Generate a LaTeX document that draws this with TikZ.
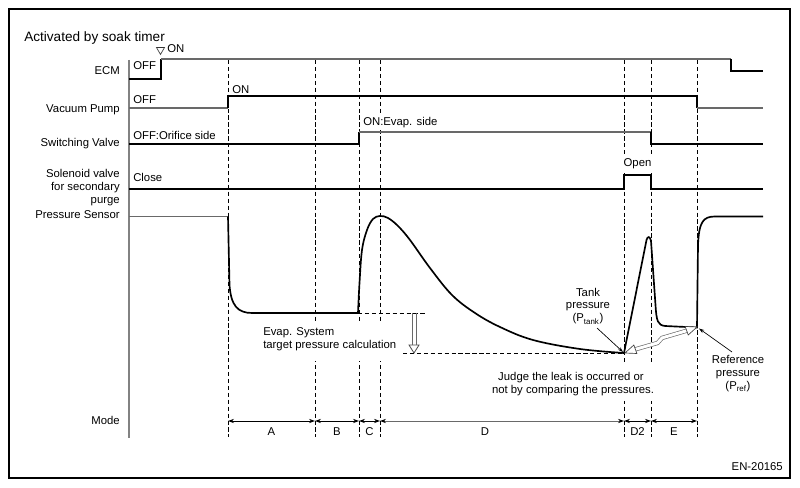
\documentclass[tikz,border=0pt]{standalone}
\usepackage{fontspec}
\setmainfont{Liberation Sans}
\usetikzlibrary{arrows.meta}
\definecolor{sg}{RGB}{105,105,105}
\definecolor{ax}{RGB}{130,130,130}
\begin{document}
\begin{tikzpicture}[x=0.75pt,y=-0.75pt,
  lbl/.style={inner sep=0pt, font=\fontsize{8.5}{10}\selectfont},
  sigk/.style={line width=1.25pt, black},
  sigg/.style={line width=1.4pt, sg},
  guide/.style={line width=0.6pt, dash pattern=on 3.2pt off 2pt},
  modearr/.style={line width=0.7pt, {Stealth[length=4.5pt,width=3.2pt,color=black]}-{Stealth[length=4.5pt,width=3.2pt,color=black]}},
  ptr/.style={line width=0.5pt, -{Stealth[length=4pt,width=2.6pt]}},
  mask/.style={fill=white, draw=none}]
\useasboundingbox (0,0) rectangle (800,488);
\draw[line width=0.9pt] (9,9) rectangle (790,478);

% guide lines
\foreach \x [count=\i] in {228,315,359,380,624,651,697} {
  \coordinate (top\i) at (\x,60);
  \coordinate (bot\i) at (\x,437);
  \coordinate (m\i) at (\x,421);
  \draw[guide] (top\i) -- (bot\i);
}
\coordinate (axtop) at (129,60);
\coordinate (axbot) at (129,438);
\draw[ax, line width=0.8pt] (axtop) -- (axbot);

% masks behind texts
\fill[mask] (361,113) rectangle (442,130);
\fill[mask] (620,154) rectangle (655,173);
\fill[mask] (260,322) rectangle (400,361);
\fill[mask] (488,364) rectangle (662,401);

% horizontal guides
\coordinate (h1a) at (358,313); \coordinate (h1b) at (427,313);
\coordinate (h2a) at (403,353); \coordinate (h2b) at (624,353);
\draw[guide] (h1a) -- (h1b);
\draw[guide] (h2a) -- (h2b);

% title and labels
\node[inner sep=0pt, anchor=base west, font=\fontsize{10.2}{12}\selectfont] (title) at (24,42) {Activated by soak timer};
\node[lbl, anchor=base east] (lecm) at (120,75) {ECM};
\node[lbl, anchor=base east] (lvp) at (120,113) {Vacuum Pump};
\node[lbl, anchor=base east] (lsv) at (120,147) {Switching Valve};
\node[lbl, anchor=base east] (lsol1) at (120,178) {Solenoid valve};
\node[lbl, anchor=base east] (lsol2) at (120,191) {for secondary};
\node[lbl, anchor=base east] (lsol3) at (120,203.5) {purge};
\node[lbl, anchor=base east] (lps) at (120,218.5) {Pressure Sensor};
\node[lbl, anchor=base east] (lmode) at (120,424.5) {Mode};

% state texts
\node[lbl, anchor=base west] (ecmoff) at (133,70) {OFF};
\node[lbl, anchor=base west] (ecmon) at (167,53) {ON};
\draw[line width=0.5pt, black!80] (156.5,47.5) -- (164.5,47.5) -- (160.5,54.5) -- cycle;
\node[lbl, anchor=base west] (vpoff) at (133,104) {OFF};
\node[lbl, anchor=base west] (vpon) at (232,94) {ON};
\node[lbl, anchor=base west] (svoff) at (133,140) {OFF:Orifice side};
\node[lbl, anchor=base west] (svon) at (363,126) {ON:Evap. side};
\node[lbl, anchor=base west] (solc) at (133,181.5) {Close};
\node[lbl, anchor=base] (solo) at (637.5,167) {Open};

% signals
\draw[sigk] (129,79) -- (161,79) -- (161,59);
\draw[sigg] (161,59) -- (731,59);
\draw[sigk] (731,59) -- (731,71) -- (763,71);

\draw[sigg] (129,108) -- (228,108);
\draw[sigk] (228,108) -- (228,96) -- (697,96) -- (697,108);
\draw[sigg] (697,108) -- (763,108);

\draw[sigk] (129,144) -- (359,144) -- (359,132);
\draw[sigg] (359,132) -- (651,132);
\draw[sigk] (651,132) -- (651,144) -- (763,144);

\draw[sigk] (129,189) -- (624,189) -- (624,175) -- (651,175) -- (651,189) -- (763,189);

\draw[sigg] (129,216.5) -- (228,216.5);
\draw[sigk] (228,216.5) -- (229.5,285) .. controls (231,306) and (238,313) .. (252,313) -- (358,313);
\draw[sigk] plot[smooth, tension=0.6] coordinates {(358,313) (359.5,283) (362,250) (367,230) (373,219) (380,216) (388,218) (398,226) (410,240) (430,268) (452,295) (475,313) (500,327) (533,340) (580,349) (624,353)};
\draw[sigk] (624,353) -- (646.5,240) .. controls (647.5,236) and (650,236) .. (651,241) -- (655.5,305) .. controls (656.5,322) and (658,325) .. (665,326) -- (697,327.5) -- (698,245) .. controls (699,222) and (703,216.5) .. (715,216.5) -- (763,216.5);

% hollow down arrow
\draw[sg, line width=0.6pt] (412,313) -- (412,345) (416,313) -- (416,345);
\filldraw[fill=white, draw=black!70, line width=0.6pt] (409,345) -- (419,345) -- (414,353) -- cycle;

% evap text
\node[lbl, anchor=base west] (evap1) at (263,336) {Evap. System};
\node[lbl, anchor=base west] (evap2) at (263,349) {target pressure calculation};

% tank pressure
\node[lbl, anchor=base] (tank1) at (588,296.5) {Tank};
\node[lbl, anchor=base] (tank2) at (588,309) {pressure};
\node[lbl, anchor=base] (tank3) at (588,322) {(P\textsubscript{tank})};
\coordinate (ptank) at (623,352);
\coordinate (ptanks) at (597,328);
\draw[ptr] (ptanks) -- (ptank);

% reference pressure
\node[lbl, anchor=base] (ref1) at (738,363.5) {Reference};
\node[lbl, anchor=base] (ref2) at (738,376.5) {pressure};
\node[lbl, anchor=base] (ref3) at (738,389.5) {(P\textsubscript{ref})};
\coordinate (pref) at (699,328.5);
\coordinate (prefs) at (732,352);
\draw[ptr] (prefs) -- (pref);

% comparison arrow
\begin{scope}[shift={(625,353)}, rotate=19.85]
  \draw[sg, line width=0.5pt, double=white, double distance=2.2pt] (10,0) -- (34,1.6) -- (40,-1.6) -- (66,0);
  \filldraw[fill=white, draw=black!75, line width=0.5pt] (0,0) -- (11,-4.5) -- (11,4.5) -- cycle;
  \filldraw[fill=white, draw=black!75, line width=0.5pt] (76.6,0) -- (65.6,-4.5) -- (65.6,4.5) -- cycle;
\end{scope}

% judge text
\node[lbl, anchor=base] (judge1) at (571,380.5) {Judge the leak is occurred or};
\node[lbl, anchor=base] (judge2) at (573,393.5) {not by comparing the pressures.};

% modes
\draw[modearr] (m1) -- (m2);
\draw[modearr] (m2) -- (m3);
\draw[modearr] (m3) -- (m4);
\draw[modearr, sg] (m4) -- (m5);
\draw[modearr] (m5) -- (m6);
\draw[modearr] (m6) -- (m7);
\node[lbl, anchor=base] (mA) at (271.5,435.5) {A};
\node[lbl, anchor=base] (mB) at (337,435.5) {B};
\node[lbl, anchor=base] (mC) at (369.5,435.5) {C};
\node[lbl, anchor=base] (mD) at (485,435.5) {D};
\node[lbl, anchor=base] (mD2) at (637.5,435.5) {D2};
\node[lbl, anchor=base] (mE) at (674,435.5) {E};

\node[lbl, anchor=base east] (code) at (783,470.5) {EN-20165};
\end{tikzpicture}
\end{document}
